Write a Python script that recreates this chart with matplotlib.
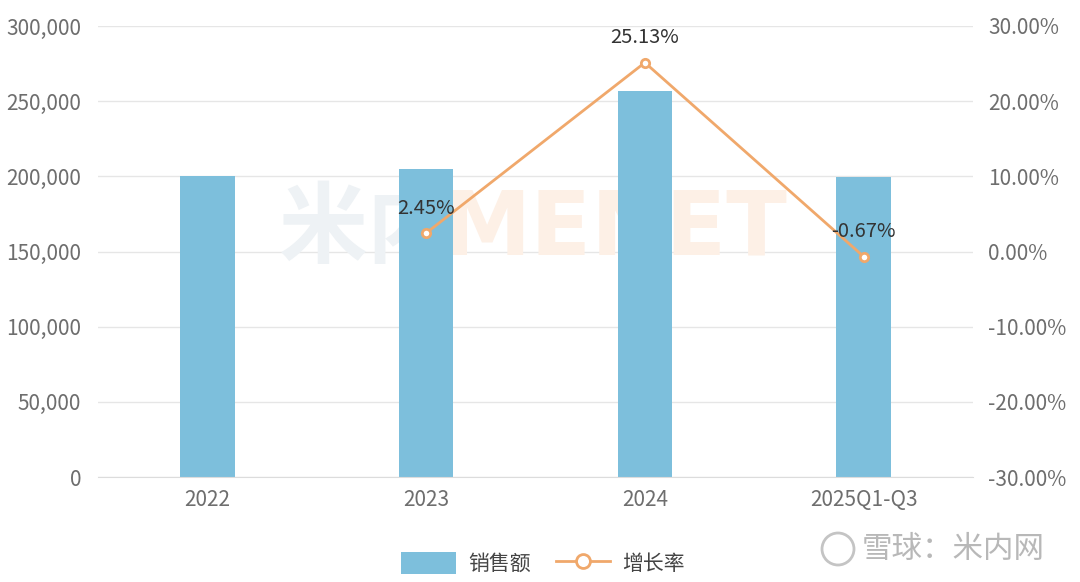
import matplotlib
matplotlib.use("Agg")
import matplotlib.pyplot as plt
from matplotlib.lines import Line2D
from matplotlib.patches import FancyBboxPatch, Circle
from matplotlib.ticker import FuncFormatter

plt.rcParams['font.family'] = ['Noto Sans CJK SC', 'DejaVu Sans']

# 数据
categories = ['2022', '2023', '2024', '2025Q1-Q3']
sales = [200300, 205200, 256800, 199500]
growth = [None, 2.45, 25.13, -0.67]
growth_labels = ['', '2.45%', '25.13%', '-0.67%']

bar_color = '#7dbfdc'
line_color = '#f0a86b'
tick_color = '#6e6e6e'
grid_color = '#e6e6e6'

fig = plt.figure(figsize=(10.8, 5.82), dpi=100)
ax = fig.add_axes([98 / 1080, 1 - 477 / 582, 875 / 1080, 451 / 582])
ax2 = ax.twinx()

x = list(range(len(categories)))

# 水印 (在柱子后面)
ax.text(0.258, 0.605, '米内', fontsize=64, fontweight='bold', color='#eef2f5',
        ha='left', va='center', zorder=1, transform=fig.transFigure)
ax.text(0.41, 0.605, 'MENET', fontsize=64, fontweight='bold', color='#fdf0e6',
        ha='left', va='center', zorder=1, transform=fig.transFigure,
        family='DejaVu Sans')

# 柱状图
ax.bar(x, sales, width=0.25, color=bar_color, zorder=2)
ax.set_ylim(0, 300000)
ax.set_yticks(range(0, 300001, 50000))
ax.yaxis.set_major_formatter(FuncFormatter(lambda v, p: f'{int(v):,}'))
ax.set_xlim(-0.5, len(categories) - 0.5)
ax.set_xticks(x)
ax.set_xticklabels(categories)
ax.grid(axis='y', color=grid_color, linewidth=1, zorder=0)
ax.set_axisbelow(True)

# 增长率折线
gx = [i for i, g in zip(x, growth) if g is not None]
gy = [g for g in growth if g is not None]
ax2.plot(gx, gy, color=line_color, linewidth=2, marker='o', markersize=6,
         markerfacecolor='white', markeredgecolor=line_color, markeredgewidth=2,
         zorder=3)
for i, g, lab in zip(x, growth, growth_labels):
    if g is None:
        continue
    ax2.annotate(lab, (i, g), xytext=(0, 18), textcoords='offset points',
                 ha='center', va='center', fontsize=14.5, color='#333333')
ax2.set_ylim(-30, 30)
ax2.set_yticks(range(-30, 31, 10))
ax2.yaxis.set_major_formatter(FuncFormatter(lambda v, p: f'{v:.2f}%'))

for a in (ax, ax2):
    for s in a.spines.values():
        s.set_visible(False)
    a.tick_params(length=0, labelsize=15, labelcolor=tick_color)
ax.spines['bottom'].set_visible(True)
ax.spines['bottom'].set_color('#dcdcdc')
ax.tick_params(axis='x', pad=9)
ax.tick_params(axis='y', pad=12)
ax2.tick_params(axis='y', pad=11)

# 图例
handles = [
    FancyBboxPatch((0, 0), 1, 1, boxstyle='round,pad=0,rounding_size=0.15',
                   facecolor=bar_color, edgecolor='none'),
    Line2D([], [], color=line_color, linewidth=2, marker='o', markersize=10,
           markerfacecolor='white', markeredgecolor=line_color, markeredgewidth=2),
]
fig.legend(handles, ['销售额', '增长率'], loc='center', bbox_to_anchor=(0.503, 0.032),
           ncol=2, frameon=False, fontsize=15, labelcolor='#444444',
           handlelength=2.6, handleheight=1.3, columnspacing=1.2, handletextpad=0.6)

# 雪球水印
fig.patches.append(Circle((8.38, (582 - 549) / 100), 0.16,
                          transform=fig.dpi_scale_trans, fill=False,
                          edgecolor='#c4c4c4', linewidth=2))
fig.text(862 / 1080, 1 - 549 / 582, '雪球：米内网', fontsize=22, color='#b8b8b8',
         ha='left', va='center')

fig.savefig('out.png', dpi=100)
